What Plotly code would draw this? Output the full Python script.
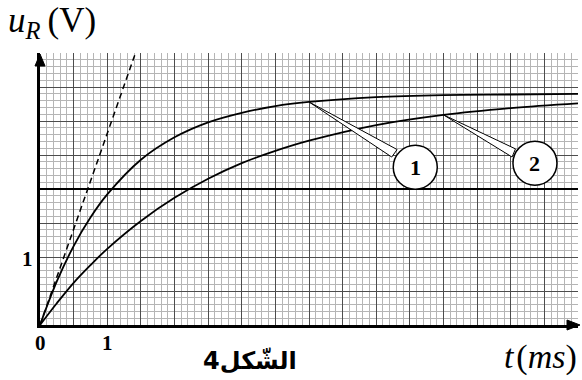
import plotly.graph_objects as go

# temps (ms) et tensions
t_ms = [0, 0.25, 0.5, 0.75, 1, 1.5, 2, 2.5, 3, 3.5, 4, 5, 6, 7, 8]
u_courbe1 = [0, 0.64, 1.16, 1.58, 1.92, 2.43, 2.76, 2.98, 3.12, 3.22, 3.28, 3.35, 3.38, 3.39, 3.40]
u_courbe2 = [0, 0.32, 0.62, 0.88, 1.12, 1.53, 1.87, 2.15, 2.38, 2.56, 2.71, 2.94, 3.09, 3.19, 3.26]
# tangente a l'origine (pointilles)
t_tangente = [0, 1.42]
u_tangente = [0, 4.0]

# quadrillage tous les 0.5, seuls 0 et 1 sont ecrits
x_grad = [0, 0.5, 1, 1.5, 2, 2.5, 3, 3.5, 4, 4.5, 5, 5.5, 6, 6.5, 7, 7.5, 8]
y_grad = [0, 0.5, 1, 1.5, 2, 2.5, 3, 3.5, 4]
x_ecrits = [0, 1]
y_ecrits = [1]

W, H = 582, 380
L, R, T, B = 40, 4, 53, 55
pw, ph = W - L - R, H - T - B


def px(xp):
    return (xp - L) / pw


def py(yp):
    return (H - B - yp) / ph


fig = go.Figure()

fig.add_trace(go.Scatter(x=t_tangente, y=u_tangente, mode="lines",
                         line=dict(color="black", width=1.5, dash="6px,4px"),
                         showlegend=False, hoverinfo="skip"))
fig.add_trace(go.Scatter(x=t_ms, y=u_courbe1, mode="lines", line_shape="spline",
                         line=dict(color="black", width=1.8), showlegend=False))
fig.add_trace(go.Scatter(x=t_ms, y=u_courbe2, mode="lines", line_shape="spline",
                         line=dict(color="black", width=1.8), showlegend=False))

shapes = []
# ligne epaisse a 2 V
shapes.append(dict(type="line", xref="x", yref="y", x0=0, x1=8, y0=2, y1=2,
                   line=dict(color="black", width=2.2), layer="between"))

# bulles 1 et 2 avec leurs pointeurs
bulles = [
    # (indice sur la courbe, courbe, centre bulle, base du pointeur)
    (10, u_courbe1, (5.58, 2.32), [(5.23, 2.47), (5.31, 2.58)]),
    (12, u_courbe2, (7.36, 2.38), [(7.02, 2.47), (7.07, 2.59)]),
]
for k, (i, courbe, c, base) in enumerate(bulles):
    ax_, ay_ = t_ms[i], courbe[i]
    path = "M {},{} L {},{} L {},{} Z".format(ax_, ay_, base[0][0], base[0][1], base[1][0], base[1][1])
    shapes.append(dict(type="path", xref="x", yref="y", path=path,
                       fillcolor="white", line=dict(color="black", width=1)))
    shapes.append(dict(type="circle", xref="x", yref="y", xsizemode="pixel", ysizemode="pixel",
                       xanchor=c[0], yanchor=c[1], x0=-22, x1=22, y0=-22, y1=22,
                       fillcolor="white", line=dict(color="black", width=1.5)))

# fleches des axes
shapes.append(dict(type="path", xref="paper", yref="paper", fillcolor="black",
                   line=dict(color="black", width=1),
                   path="M {},{} L {},{} L {},{} Z".format(px(40), py(54), px(35), py(66), px(45), py(66))))
shapes.append(dict(type="path", xref="paper", yref="paper", fillcolor="black",
                   line=dict(color="black", width=1),
                   path="M {},{} L {},{} L {},{} Z".format(px(580), py(325), px(567), py(320), px(567), py(330))))

serif = "Liberation Serif, Times New Roman, serif"
annotations = [
    dict(text="<i>u</i><sub><i>R</i></sub>\u2009(V)", xref="paper", yref="paper",
         x=px(6), y=py(23), xanchor="left", yanchor="middle", showarrow=False,
         font=dict(family=serif, size=35, color="black")),
    dict(text="<i>t</i>\u200a(<i>ms</i>)", xref="paper", yref="paper",
         x=px(579), y=py(357), xanchor="right", yanchor="middle", showarrow=False,
         font=dict(family=serif, size=34, color="black")),
    dict(text="\u202bالشّكل4\u202c", xref="paper", yref="paper",
         x=px(250), y=py(361), xanchor="center", yanchor="middle", showarrow=False,
         font=dict(family="DejaVu Sans", size=24, color="black", weight="bold")),
    dict(text="<b>1</b>", x=bulles[0][2][0], y=bulles[0][2][1], showarrow=False,
         font=dict(family=serif, size=22, color="black")),
    dict(text="<b>2</b>", x=bulles[1][2][0], y=bulles[1][2][1], showarrow=False,
         font=dict(family=serif, size=22, color="black")),
]
# valeurs ecrites sur les axes
for v in x_ecrits:
    annotations.append(dict(text="<b>{}</b>".format(v), x=v, y=0, xref="x", yref="y",
                            yshift=-18, showarrow=False,
                            font=dict(family=serif, size=21, color="black")))
for v in y_ecrits:
    annotations.append(dict(text="<b>{}</b>".format(v), x=0, y=v, xref="x", yref="y",
                            xshift=-13, yshift=-2, showarrow=False,
                            font=dict(family=serif, size=21, color="black")))

fig.update_layout(
    width=W, height=H,
    margin=dict(l=L, r=R, t=T, b=B, autoexpand=False),
    paper_bgcolor="white", plot_bgcolor="white",
    shapes=shapes, annotations=annotations,
    showlegend=False,
)
fig.update_xaxes(range=[0, 8], tickmode="array", tickvals=x_grad, showticklabels=False,
                 ticks="", showgrid=True, gridcolor="#4d4d4d", gridwidth=1,
                 minor=dict(tickmode="linear", tick0=0, dtick=0.1, showgrid=True,
                            gridcolor="#b5b5b5", gridwidth=1),
                 showline=True, linecolor="black", linewidth=3, zeroline=False)
fig.update_yaxes(range=[0, 4], tickmode="array", tickvals=y_grad, showticklabels=False,
                 ticks="", showgrid=True, gridcolor="#4d4d4d", gridwidth=1,
                 minor=dict(tickmode="linear", tick0=0, dtick=0.1, showgrid=True,
                            gridcolor="#b5b5b5", gridwidth=1),
                 showline=True, linecolor="black", linewidth=3, zeroline=False)

fig.write_html("out.html", config={"displayModeBar": False},
               post_script="document.body.style.margin='0';")
